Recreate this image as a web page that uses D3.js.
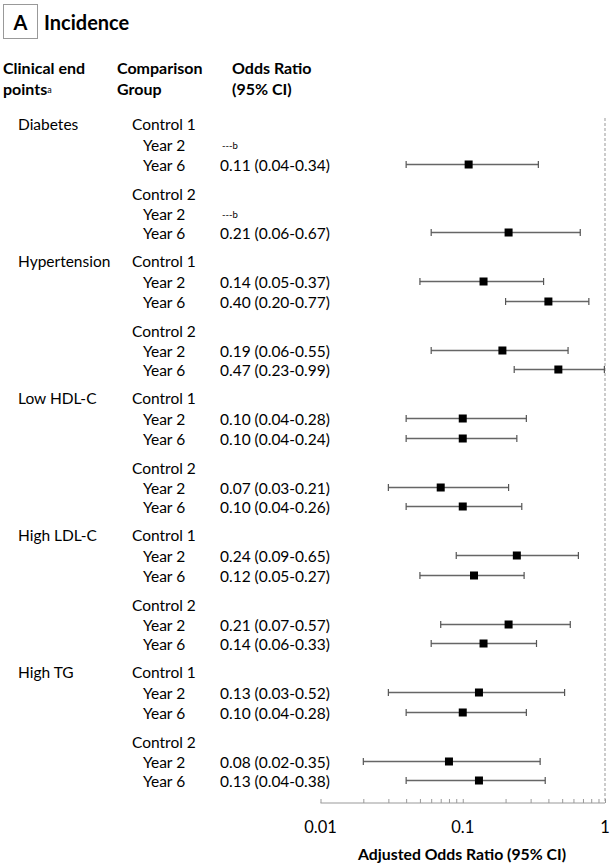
<!DOCTYPE html>
<html>
<head>
<meta charset="utf-8">
<script src="https://cdn.jsdelivr.net/npm/d3@7"></script>
<style>
  html, body { margin: 0; padding: 0; background: #fff; }
  svg { display: block; font-family: Lato, "Open Sans", sans-serif; }
</style>
</head>
<body>
<svg id="chart" width="612" height="865"></svg>
<script>
// ---- data ----
const endpoints = ["Diabetes", "Hypertension", "Low HDL-C", "High LDL-C", "High TG"];
const groups = ["Control 1", "Control 2"];
const years = ["Year 2", "Year 6"];
// odds ratios, in order endpoint -> group -> year (null = not estimable)
const orValues = [
  null, 0.11, null, 0.21,
  0.14, 0.40, 0.19, 0.47,
  0.10, 0.10, 0.07, 0.10,
  0.24, 0.12, 0.21, 0.14,
  0.13, 0.10, 0.08, 0.13
];
const ciLow = [
  null, 0.04, null, 0.06,
  0.05, 0.20, 0.06, 0.23,
  0.04, 0.04, 0.03, 0.04,
  0.09, 0.05, 0.07, 0.06,
  0.03, 0.04, 0.02, 0.04
];
const ciHigh = [
  null, 0.34, null, 0.67,
  0.37, 0.77, 0.55, 0.99,
  0.28, 0.24, 0.21, 0.26,
  0.65, 0.27, 0.57, 0.33,
  0.52, 0.28, 0.35, 0.38
];
const tickValues = [0.01, 0.1, 1];
const tickLabels = ["0.01", "0.1", "1"];

// ---- layout ----
const svg = d3.select("#chart");
const x = d3.scaleLog().domain([0.01, 1]).range([320.5, 605]);
const epPeriod = 137, y0 = 130;
const rowOffset = { g0: 0, g0y0: 21, g0y1: 41, g1: 70, g1y0: 90, g1y1: 109 };
const fs = 15.5;
const fmt = d3.format(".2f");

// title
svg.append("rect").attr("x", 3.5).attr("y", 4.5).attr("width", 34).attr("height", 34)
  .attr("fill", "none").attr("stroke", "#999").attr("stroke-width", 1);
svg.append("text").attr("x", 20.5).attr("y", 30).attr("text-anchor", "middle")
  .attr("font-size", 20).attr("font-weight", "bold").text("A");
svg.append("text").attr("x", 44).attr("y", 30)
  .attr("font-size", 20).attr("font-weight", "bold").text("Incidence");

// headers
const hdr = svg.append("g").attr("font-size", 16).attr("font-weight", "bold");
hdr.append("text").attr("x", 3).attr("y", 74).text("Clinical end");
const pt = hdr.append("text").attr("x", 3).attr("y", 95);
pt.append("tspan").text("points");
pt.append("tspan").attr("font-size", 9).attr("font-weight", "normal").attr("dy", -2).text("a");
hdr.append("text").attr("x", 117).attr("y", 74).text("Comparison");
hdr.append("text").attr("x", 117).attr("y", 95).text("Group");
hdr.append("text").attr("x", 232).attr("y", 74).text("Odds Ratio");
hdr.append("text").attr("x", 232).attr("y", 95).text("(95% CI)");

// dashed reference line at OR = 1
svg.append("line").attr("x1", x(1)).attr("x2", x(1)).attr("y1", 118).attr("y2", 803)
  .attr("stroke", "#aaa").attr("stroke-width", 1.2).attr("stroke-dasharray", "3,2");

// rows
const rows = [];
endpoints.forEach((ep, e) => {
  groups.forEach((g, gi) => {
    years.forEach((yr, yi) => {
      const i = e * 4 + gi * 2 + yi;
      rows.push({ ep, g, yr, e, gi, yi, or: orValues[i], lo: ciLow[i], hi: ciHigh[i] });
    });
  });
});
const baseY = (e, key) => y0 + e * epPeriod + rowOffset[key];

const txt = svg.append("g").attr("font-size", fs).attr("fill", "#000");
endpoints.forEach((ep, e) => {
  txt.append("text").attr("x", 18).attr("y", baseY(e, "g0")).text(ep);
  groups.forEach((g, gi) => {
    txt.append("text").attr("x", 132).attr("y", baseY(e, "g" + gi)).text(g);
  });
});
rows.forEach(d => {
  const by = baseY(d.e, "g" + d.gi + "y" + d.yi);
  d.by = by;
  txt.append("text").attr("x", 143).attr("y", by).text(d.yr);
  if (d.or == null) {
    const t = txt.append("text").attr("x", 222).attr("y", by - 2).attr("font-size", 9.5);
    t.append("tspan").text("---");
    t.append("tspan").text("b");
  } else {
    txt.append("text").attr("x", 220).attr("y", by)
      .text(`${fmt(d.or)} (${fmt(d.lo)}-${fmt(d.hi)})`);
  }
});

// forest marks
const marks = svg.append("g");
const valid = rows.filter(d => d.or != null);
valid.forEach(d => {
  const cy = d.by - 6.5;
  const g = marks.append("g");
  g.append("line").attr("x1", x(d.lo)).attr("x2", x(d.hi)).attr("y1", cy).attr("y2", cy)
    .attr("stroke", "#666").attr("stroke-width", 1.3);
  [d.lo, d.hi].forEach(v => {
    g.append("line").attr("x1", x(v)).attr("x2", x(v)).attr("y1", cy - 3.5).attr("y2", cy + 3.5)
      .attr("stroke", "#555").attr("stroke-width", 1.2);
  });
  g.append("rect").attr("x", x(d.or) - 4).attr("y", cy - 4).attr("width", 8).attr("height", 8)
    .attr("fill", "#000");
});

// axis
const axisY = 803;
const ax = svg.append("g").attr("transform", `translate(0,${axisY})`);
const allTicks = x.ticks();
ax.call(d3.axisBottom(x).tickValues(allTicks).tickSize(4).tickFormat(""));
ax.select(".domain").attr("stroke", "#999").attr("stroke-width", 1.2).attr("d", `M${x(0.01)},0H${x(1)}`);
ax.selectAll(".tick line").attr("stroke", "#999").attr("y1", -4).attr("y2", 0);

svg.append("g").selectAll("text").data(tickValues).join("text")
  .attr("x", d => x(d)).attr("y", 833).attr("text-anchor", "middle")
  .attr("font-size", 16.5).text((d, i) => tickLabels[i]);

svg.append("text").attr("x", 462).attr("y", 860).attr("text-anchor", "middle")
  .attr("font-size", 15.8).attr("font-weight", "bold").text("Adjusted Odds Ratio (95% CI)");
</script>
</body>
</html>
